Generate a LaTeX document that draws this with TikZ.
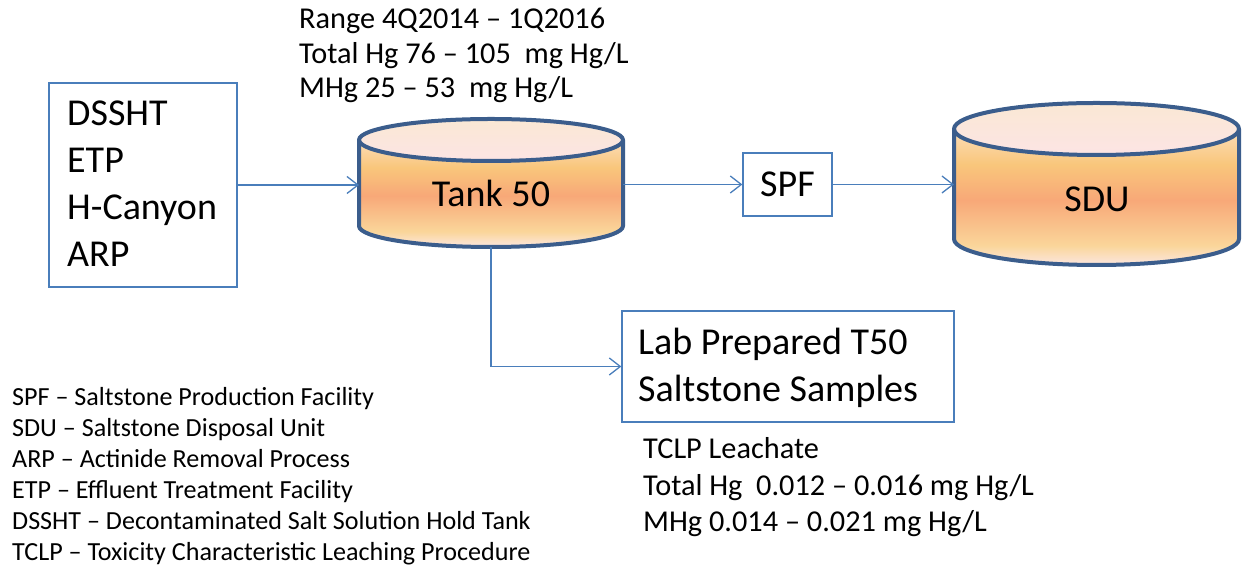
\documentclass[tikz,border=0pt]{standalone}
\usepackage{fontspec}
\setmainfont{Carlito}
\usetikzlibrary{arrows.meta}
\definecolor{cylline}{HTML}{3B5D8C}
\definecolor{conn}{HTML}{4A7EBB}
\definecolor{cA}{HTML}{FCE6E0}
\definecolor{cB}{HTML}{FAD69A}
\definecolor{cC}{HTML}{F8A878}
\definecolor{cD}{HTML}{F9C67B}
\definecolor{cE}{HTML}{FBD7A8}
\definecolor{cF}{HTML}{FCE8E0}
\definecolor{tA}{HTML}{FAE8D4}
\definecolor{tB}{HTML}{FDE6EE}
\definecolor{tC}{HTML}{FCE4E4}
\pgfdeclareverticalshading{cylshade}{100bp}{color(0bp)=(cA); color(25bp)=(cA); color(31bp)=(cB); color(45bp)=(cC); color(56bp)=(cD); color(64bp)=(cE); color(75bp)=(cF); color(100bp)=(cF)}
\newcommand{\drawcylinder}[5]{%
  \shade[shading=cylshade] (#1-#4,#2) -- (#1-#4,#3) arc[start angle=180,end angle=360,x radius=#4,y radius=#5] -- (#1+#4,#2) arc[start angle=0,end angle=180,x radius=#4,y radius=#5] -- cycle;
  \shade[top color=tA,middle color=tB,bottom color=tC] (#1,#2) ellipse [x radius=#4,y radius=#5];
  \draw[cylout] (#1-#4,#2) -- (#1-#4,#3) arc[start angle=180,end angle=360,x radius=#4,y radius=#5] -- (#1+#4,#2);
  \draw[cylout] (#1,#2) ellipse [x radius=#4,y radius=#5];
}
\tikzset{
  cylout/.style={draw=cylline,line width=4pt,line join=round},
  boxnode/.style={draw=conn,line width=1.3pt,inner sep=0pt,minimum width=#1},
  ghost/.style={inner sep=0pt,outer sep=0pt},
  conarrow/.style={draw=conn,line width=1.3pt,-{Straight Barb[length=11pt,width=17pt]}},
  bigtxt/.style={inner sep=0pt,font=\fontsize{38}{46}\selectfont},
  midtxt/.style={inner sep=0pt,font=\fontsize{30.3}{36}\selectfont},
  smalltxt/.style={inner sep=0pt,font=\fontsize{26.1}{31}\selectfont},
}
\begin{document}
\begin{tikzpicture}[x=1pt,y=1pt]
\useasboundingbox (0,0) rectangle (1242,567);
% cylinders
\drawcylinder{491}{427}{341}{132}{21}
\drawcylinder{1096.5}{438}{328}{142.5}{26}
\node[ghost,minimum width=264pt,minimum height=129pt] (tank) at (491,384.5) {};
\node[ghost,minimum width=285pt,minimum height=162pt] (sdu) at (1096.5,383) {};
% boxes
\node[boxnode=188pt,minimum height=204pt] (src) at (143,382) {};
\node[boxnode=89pt,minimum height=63pt] (spf) at (787.5,382.5) {};
\node[boxnode=332pt,minimum height=111pt] (lab) at (788,200.5) {};
% texts
\node[bigtxt,anchor=base west] (s1) at (67,441) {DSSHT};
\node[bigtxt,anchor=base west] (s2) at (67,394) {ETP};
\node[bigtxt,anchor=base west] (s3) at (67,347) {H-Canyon};
\node[bigtxt,anchor=base west] (s4) at (67,300) {ARP};
\node[bigtxt,anchor=base] (tanklbl) at (491,360) {Tank 50};
\node[bigtxt,anchor=base] (sdulbl) at (1097,355) {SDU};
\node[bigtxt,anchor=base] (spflbl) at (787.5,370) {SPF};
\node[bigtxt,anchor=base west] (l1) at (638,212) {Lab Prepared T50};
\node[bigtxt,anchor=base west] (l2) at (638,165) {Saltstone Samples};
\node[midtxt,anchor=base west] (r1) at (299,538) {Range 4Q2014 – 1Q2016};
\node[midtxt,anchor=base west] (r2) at (299,503.5) {Total Hg 76 – 105\ \ mg Hg/L};
\node[midtxt,anchor=base west] (r3) at (299,469) {MHg 25 – 53\ \ mg Hg/L};
\node[midtxt,anchor=base west] (t1) at (643,108) {TCLP Leachate};
\node[midtxt,anchor=base west] (t2) at (643,71) {Total Hg\ \ 0.012 – 0.016 mg Hg/L};
\node[midtxt,anchor=base west] (t3) at (643,35) {MHg 0.014 – 0.021 mg Hg/L};
\node[smalltxt,anchor=base west] (g1) at (12,161) {SPF – Saltstone Production Facility};
\node[smalltxt,anchor=base west] (g2) at (12,130) {SDU – Saltstone Disposal Unit};
\node[smalltxt,anchor=base west] (g3) at (12,99) {ARP – Actinide Removal Process};
\node[smalltxt,anchor=base west] (g4) at (12,68) {ETP – Effluent Treatment Facility};
\node[smalltxt,anchor=base west] (g5) at (12,37) {DSSHT – Decontaminated Salt Solution Hold Tank};
\node[smalltxt,anchor=base west] (g6) at (12,6.5) {TCLP – Toxicity Characteristic Leaching Procedure};
% connectors
\draw[conarrow] (src.east) -- (src.east -| tank.west);
\draw[conarrow] (tank.east |- spf.west) -- (spf.west);
\draw[conarrow] (spf.east) -- (spf.east -| sdu.west);
\draw[conarrow] (tank.south) |- (lab.west);
\end{tikzpicture}
\end{document}
